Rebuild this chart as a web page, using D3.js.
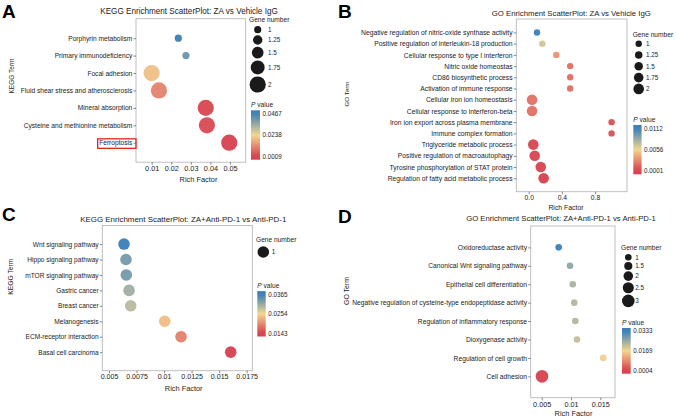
<!DOCTYPE html>
<html><head><meta charset="utf-8">
<script src="https://cdn.jsdelivr.net/npm/d3@7"></script>
<style>body{margin:0;background:#fff}</style>
</head><body><svg id="c" width="676" height="418"></svg>
<script>
// ---------- Panel A : KEGG, ZA vs Vehicle IgG ----------
const aTerms = ["Porphyrin metabolism","Primary immunodeficiency","Focal adhesion","Fluid shear stress and atherosclerosis","Mineral absorption","Cysteine and methionine metabolism","Ferroptosis"];
const aRich = [0.0236,0.0275,0.0100,0.0137,0.0376,0.0382,0.0496];
const aGenes = [1,1,2,2,2,2,2];
const aPval = [0.0467,0.041,0.0204,0.0112,0.002,0.0025,0.0009];
const aXTicks = [0.01,0.02,0.03,0.04,0.05];
const aXTickLabels = ["0.01","0.02","0.03","0.04","0.05"];
const aSizeTicks = [1,1.25,1.5,1.75,2];
const aPTicks = [0.0467,0.0238,0.0009];
const aPTickLabels = ["0.0467","0.0238","0.0009"];
const aHighlight = "Ferroptosis";

// ---------- Panel B : GO, ZA vs Vehicle IgG ----------
const bTerms = ["Negative regulation of nitric-oxide synthase activity","Positive regulation of interleukin-18 production","Cellular response to type I interferon","Nitric oxide homeostas","CD86 biosynthetic process","Activation of immune response","Cellular iron ion homeostasis","Cellular response to interferon-beta","Iron ion export across plasma membrane","Immune complex formation","Triglyceride metabolic process","Positive regulation of macroautophagy","Tyrosine phosphorylation of STAT protein","Regulation of fatty acid metabolic process"];
const bRich = [0.10,0.164,0.333,0.50,0.50,0.50,0.04,0.04,1.0,1.0,0.055,0.072,0.145,0.18];
const bGenes = [1,1,1,1,1,1,2,2,1,1,2,2,2,2];
const bPval = [0.0112,0.0067,0.0032,0.0018,0.0018,0.0018,0.0019,0.0019,0.0007,0.0007,0.0003,0.0003,0.0002,0.0001];
const bXTicks = [0,0.4,0.8];
const bXTickLabels = ["0.0","0.4","0.8"];
const bSizeTicks = [1,1.25,1.5,1.75,2];
const bPTicks = [0.0112,0.0056,0.0001];
const bPTickLabels = ["0.0112","0.0056","0.0001"];

// ---------- Panel C : KEGG, ZA+Anti-PD-1 vs Anti-PD-1 ----------
const cTerms = ["Wnt signaling pathway","Hippo signaling pathway","mTOR signaling pathway","Gastric cancer","Breast cancer","Melanogenesis","ECM-receptor interaction","Basal cell carcinoma"];
const cRich = [0.00636,0.00654,0.00657,0.00682,0.00697,0.01006,0.01154,0.01605];
const cGenes = [1,1,1,1,1,1,1,1];
const cPval = [0.0365,0.033,0.033,0.0305,0.029,0.0235,0.019,0.0143];
const cXTicks = [0.005,0.0075,0.01,0.0125,0.015,0.0175];
const cXTickLabels = ["0.005","0.0075","0.01","0.0125","0.015","0.0175"];
const cSizeTicks = [1];
const cPTicks = [0.0365,0.0254,0.0143];
const cPTickLabels = ["0.0365","0.0254","0.0143"];

// ---------- Panel D : GO, ZA+Anti-PD-1 vs Anti-PD-1 ----------
const dTerms = ["Oxidoreductase activity","Canonical Wnt signaling pathway","Epithelial cell differentiation","Negative regulation of cysteine-type endopeptidase activity","Regulation of inflammatory response","Dioxygenase activity","Regulation of cell growth","Cell adhesion"];
const dRich = [0.0079,0.00983,0.0103,0.01056,0.01073,0.01102,0.0155,0.00505];
const dGenes = [1,1,1,1,1,1,1,3];
const dPval = [0.0333,0.0259,0.0234,0.0226,0.0226,0.0213,0.016,0.0004];
const dXTicks = [0.005,0.01,0.015];
const dXTickLabels = ["0.005","0.01","0.015"];
const dSizeTicks = [1,1.5,2,2.5,3];
const dPTicks = [0.0333,0.0169,0.0004];
const dPTickLabels = ["0.0333","0.0169","0.0004"];

const FONT = '"Liberation Sans", Arial, Helvetica, sans-serif';
const GRAD = ["#d6404e","#f4d690","#3a7eb8"]; // low p -> mid -> high p
const svg = d3.select("#c");
svg.append("rect").attr("width",676).attr("height",418).attr("fill","#fff");

function txt(g, x, y, s, fs, opts={}) {
  const t = g.append("text").attr("x",x).attr("y",y).text(s)
    .style("font-family",FONT).style("font-size",fs+"px").attr("fill",opts.fill||"#222");
  if (opts.anchor) t.attr("text-anchor",opts.anchor);
  if (opts.weight) t.style("font-weight",opts.weight);
  if (opts.dy) t.attr("dy",opts.dy);
  if (opts.rotate) t.attr("transform",`rotate(-90,${x},${y})`);
  if (opts.fitWidth) {
    const w = t.node().getComputedTextLength();
    t.style("font-size",(fs*opts.fitWidth/w)+"px");
  }
  return t;
}

function fitSize(s, width) {
  const t = svg.append("text").text(s).style("font-family",FONT).style("font-size","10px");
  const w = t.node().getComputedTextLength(); t.remove();
  return 10*width/w;
}
const LEGFS = fitSize("Gene number", 40.5);

let gradId = 0;
function panel(c) {
  const L = c.L;
  const g = svg.append("g");
  const x = d3.scaleLinear().domain(L.xDomain).range([L.x0, L.x1]);
  const y = d3.scalePoint().domain(c.terms).range([L.y0, L.y1]).padding(L.pad);
  const pLo = d3.min(c.pTicks), pHi = d3.max(c.pTicks);
  const color = d3.scaleLinear().domain([pLo,(pLo+pHi)/2,pHi]).range(GRAD).interpolate(d3.interpolateRgb);
  const r = d3.scaleLinear().domain(d3.extent(c.sizeTicks)).range(L.rRange);

  txt(g, L.letter[0], L.letter[1], c.letter, 19, {weight:"900", fill:"#000"});
  txt(g, L.title[0], L.title[1], c.title, 8, {anchor:"middle", fitWidth:L.title[2]});

  g.append("rect").attr("x",L.x0).attr("y",L.y0).attr("width",L.x1-L.x0).attr("height",L.y1-L.y0)
    .attr("fill","#fff").attr("stroke","#b8b8b8").attr("stroke-width",0.9);

  const xa = g.append("g").attr("transform",`translate(0,${L.y1})`)
    .call(d3.axisBottom(x).tickValues(c.xTicks).tickFormat((d,i)=>c.xTickLabels[i]).tickSize(2.5).tickPadding(1.2));
  const ya = g.append("g").attr("transform",`translate(${L.x0},0)`)
    .call(d3.axisLeft(y).tickSize(2.5).tickPadding(1.2));
  [xa,ya].forEach(a=>{
    a.select(".domain").remove();
    a.selectAll("line").attr("stroke","#555").attr("stroke-width",0.7);
    a.selectAll("text").attr("fill","#222").style("font-family",FONT).style("font-size","10px");
  });
  xa.selectAll("text").style("font-size",L.xfs+"px");
  const maxW = d3.max(ya.selectAll("text").nodes(), n=>n.getComputedTextLength());
  const yfs = 10*(L.x0 - 3.7 - L.labLeft)/maxW;
  ya.selectAll("text").style("font-size",yfs+"px");

  if (c.highlight) {
    ya.selectAll(".tick").filter(d=>d===c.highlight).each(function(){
      const bb = d3.select(this).select("text").node().getBBox();
      d3.select(this).append("rect").attr("x",bb.x-1.5).attr("y",bb.y-0.5).attr("width",bb.width+4.5).attr("height",bb.height+1.5)
        .attr("fill","none").attr("stroke","#e2231a").attr("stroke-width",1.3);
    });
  }

  txt(g, L.xTitle[0], L.xTitle[1], "Rich Factor", L.tfs, {anchor:"middle"});
  txt(g, L.yTitle[0], L.yTitle[1], c.yTitle, L.tfs, {anchor:"middle", rotate:true, fitWidth:L.yTitle[2]});

  const data = c.terms.map((t,i)=>({t, rf:c.rich[i], n:c.genes[i], p:c.pval[i]}));
  g.append("g").selectAll("circle").data(data).join("circle")
    .attr("cx",d=>x(d.rf)).attr("cy",d=>y(d.t)).attr("r",d=>r(d.n))
    .attr("fill",d=>color(d.p)).attr("fill-opacity",0.95);

  const lg = L.leg;
  txt(g, lg.gx, lg.gy, "Gene number", LEGFS);
  let cy = lg.cy0;
  c.sizeTicks.forEach((v,i)=>{
    if (i>0) cy += Math.max(lg.keyMin, r(c.sizeTicks[i-1]) + r(v) + lg.gap);
    g.append("circle").attr("cx",lg.cx).attr("cy",cy).attr("r",r(v)).attr("fill","#1a1a1a");
    txt(g, lg.lx, cy, String(v), LEGFS*0.95, {dy:"0.35em"});
  });

  const pt = txt(g, lg.px, lg.py, "", LEGFS);
  pt.append("tspan").text("P").style("font-style","italic");
  pt.append("tspan").text(" value");
  const id = "grad"+(gradId++);
  const gr = svg.append("defs").append("linearGradient").attr("id",id).attr("x1",0).attr("y1",1).attr("x2",0).attr("y2",0);
  const by = d3.scaleLinear().domain([pHi,pLo]).range([lg.lab0, lg.lab1]);
  const top = lg.lab0 - lg.ext, bot = lg.lab1 + lg.ext;
  d3.range(0,1.0001,0.1).forEach(f=>{
    const yy = bot - f*(bot-top);
    const pv = Math.max(pLo, Math.min(pHi, by.invert(yy)));
    gr.append("stop").attr("offset",f).attr("stop-color",color(pv));
  });
  g.append("rect").attr("x",lg.px).attr("y",top).attr("width",lg.bw).attr("height",bot-top).attr("fill",`url(#${id})`);
  c.pTicks.forEach((v,i)=>{
    txt(g, lg.px+lg.bw+2.5, by(v), c.pTickLabels[i], LEGFS*0.95, {dy:"0.35em"});
  });
}

panel({letter:"A", title:"KEGG Enrichment ScatterPlot: ZA vs Vehicle IgG", yTitle:"KEGG Term",
  terms:aTerms, rich:aRich, genes:aGenes, pval:aPval, xTicks:aXTicks, xTickLabels:aXTickLabels,
  sizeTicks:aSizeTicks, pTicks:aPTicks, pTickLabels:aPTickLabels, highlight:aHighlight,
  L:{x0:136,x1:245.7,y0:18.7,y1:162.2,pad:1.12,xDomain:[0.002,0.058],rRange:[3.6,8.1],labLeft:20.5,xfs:7.3,tfs:7.4,
     letter:[2,17.5], title:[189,14,178], xTitle:[198.5,182], yTitle:[13.5,76,35],
     leg:{gx:249,gy:22,cx:257.7,cy0:29.7,lx:268,keyMin:0,gap:2,px:251,py:107,bw:9,lab0:113.3,lab1:156.7,ext:3,}}});

panel({letter:"B", title:"GO Enrichment ScatterPlot: ZA vs Vehicle IgG", yTitle:"GO Term",
  terms:bTerms, rich:bRich, genes:bGenes, pval:bPval, xTicks:bXTicks, xTickLabels:bXTickLabels,
  sizeTicks:bSizeTicks, pTicks:bPTicks, pTickLabels:bPTickLabels,
  L:{x0:516.3,x1:627,y0:19,y1:191.7,pad:1.2,xDomain:[-0.15,1.186],rRange:[3.2,5.3],labLeft:361,xfs:6.8,tfs:6.9,
     letter:[338,17.5], title:[571.3,16,159.3], xTitle:[566,209.5], yTitle:[349,94,25],
     leg:{gx:632.7,gy:37,cx:638.7,cy0:43.7,lx:646,keyMin:11.3,gap:1,px:633.3,py:122,bw:8.3,lab0:128.3,lab1:171,ext:3.3}}});

panel({letter:"C", title:"KEGG Enrichment ScatterPlot: ZA+Anti-PD-1 vs Anti-PD-1", yTitle:"KEGG Term",
  terms:cTerms, rich:cRich, genes:cGenes, pval:cPval, xTicks:cXTicks, xTickLabels:cXTickLabels,
  sizeTicks:cSizeTicks, pTicks:cPTicks, pTickLabels:cPTickLabels,
  L:{x0:102.3,x1:252.3,y0:225.5,y1:370.7,pad:1.2,xDomain:[0.00439,0.01801],rRange:[5.8,5.8],labLeft:25,xfs:7.1,tfs:7.4,
     letter:[2,220.5], title:[183.3,222,206.7], xTitle:[183.7,390.5], yTitle:[13.5,276.7,36],
     leg:{gx:256,gy:242,cx:263.3,cy0:252,lx:271.7,keyMin:0,gap:2,px:257.3,py:288,bw:8.4,lab0:294.3,lab1:333.3,ext:3.2}}});

panel({letter:"D", title:"GO Enrichment ScatterPlot: ZA+Anti-PD-1 vs Anti-PD-1", yTitle:"GO Term",
  terms:dTerms, rich:dRich, genes:dGenes, pval:dPval, xTicks:dXTicks, xTickLabels:dXTickLabels,
  sizeTicks:dSizeTicks, pTicks:dPTicks, pTickLabels:dPTickLabels,
  L:{x0:530.7,x1:615,y0:226,y1:397.7,pad:1.16,xDomain:[0.00312,0.01751],rRange:[3.3,6.3],labLeft:352,xfs:7.3,tfs:7.4,
     letter:[338,222.5], title:[561,221,190], xTitle:[573.5,415.5], yTitle:[349,291,28],
     leg:{gx:621,gy:249.5,cx:628.3,cy0:257.3,lx:635.3,keyMin:0,gap:1.3,px:622,py:324.5,bw:8.7,lab0:331,lab1:370.7,ext:3}}});
</script></body></html>
